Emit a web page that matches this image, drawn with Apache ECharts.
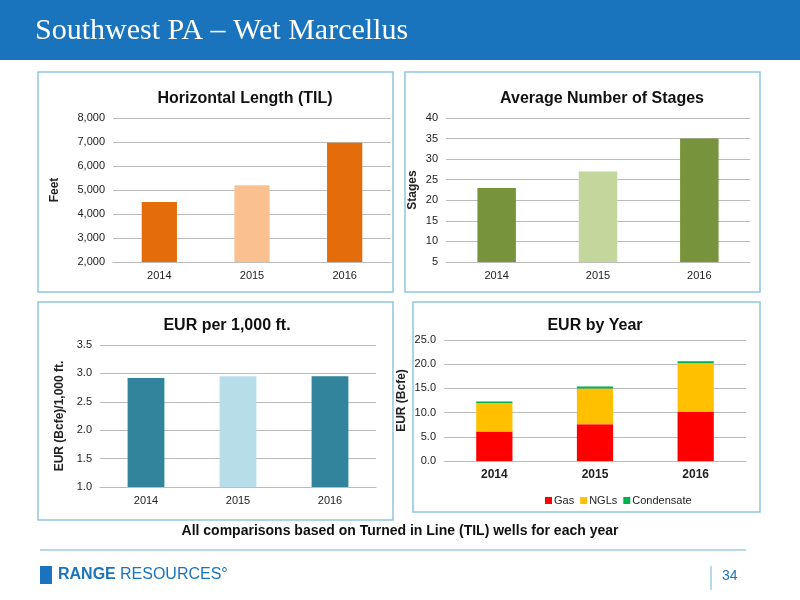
<!DOCTYPE html><html><head><meta charset="utf-8"><script src="https://cdn.jsdelivr.net/npm/echarts@6/dist/echarts.min.js"></script>
<style>body{margin:0}#c{width:800px;height:600px}</style></head><body><div id="c"></div><script>
const years=['2014','2015','2016'];
const lengthFt=[4500,5200,6970];
const stages=[23,27,35];
const eurPer1000=[2.92,2.95,2.95];
const gas=[6.1,7.6,10.1];
const ngls=[5.9,7.4,10.1];
const condensate=[0.3,0.4,0.4];
const c=echarts.init(document.getElementById('c'));
const F='Liberation Sans, Arial, sans-serif';
const ax=(gi,extra)=>Object.assign({type:'category',gridIndex:gi,data:years,axisTick:{show:false},axisLine:{lineStyle:{color:'#bbb'}},axisLabel:{color:'#222',fontSize:11,fontFamily:F}},extra||{});
const ay=(gi,min,max,iv,name,fmt,gap)=>({type:'value',gridIndex:gi,min,max,interval:iv,name,nameLocation:'middle',nameGap:gap,nameTextStyle:{fontWeight:'bold',fontSize:12,color:'#222',fontFamily:F},axisLabel:{color:'#222',fontSize:11,fontFamily:F,formatter:fmt},splitLine:{lineStyle:{color:'#bbb'}},axisLine:{show:false},axisTick:{show:false}});
const col=(arr)=>arr.map(x=>({value:x.v,itemStyle:{color:x.c}}));
const box=(x,y,w,h)=>({type:'rect',shape:{x,y,width:w,height:h},style:{fill:'none',stroke:'#8fc6e0',lineWidth:1.5}});
c.setOption({
animation:false,
graphic:[
{type:'rect',shape:{x:0,y:0,width:800,height:60},style:{fill:'#1a74bd'}},
{type:'text',left:35,top:16,style:{text:'Southwest PA – Wet Marcellus',fill:'#fff',font:'30px "Liberation Serif", serif'}},
box(38,72,355,220),box(405,72,355,220),box(38,302,355,218),box(413,302,347,210),
{type:'text',left:'center',top:524,style:{text:'All comparisons based on Turned in Line (TIL) wells for each year',fill:'#111',font:'bold 14px Liberation Sans, Arial'}},
{type:'line',shape:{x1:40,y1:550,x2:746,y2:550},style:{stroke:'#6ab4dc',lineWidth:1}},
{type:'rect',shape:{x:40,y:566,width:12,height:18},style:{fill:'#1a74bd'}},
{type:'text',left:58,top:567,style:{text:'RANGE',fill:'#1a74bd',font:'bold 16px Liberation Sans Narrow, Arial'}},
{type:'text',left:120,top:567,style:{text:'RESOURCES°',fill:'#1a74bd',font:'16px Liberation Sans Narrow, Arial'}},
{type:'line',shape:{x1:711,y1:566,x2:711,y2:590},style:{stroke:'#6ab4dc',lineWidth:1}},
{type:'text',left:722,top:569,style:{text:'34',fill:'#1a74bd',font:'14px Liberation Sans Narrow, Arial'}}
],
title:[
{text:'Horizontal Length (TIL)',left:240,top:86,textAlign:'center',textStyle:{fontSize:16,fontWeight:'bold',color:'#111',fontFamily:F}},
{text:'Average Number of Stages',left:597,top:86,textAlign:'center',textStyle:{fontSize:16,fontWeight:'bold',color:'#111',fontFamily:F}},
{text:'EUR per 1,000 ft.',left:222,top:313,textAlign:'center',textStyle:{fontSize:16,fontWeight:'bold',color:'#111',fontFamily:F}},
{text:'EUR by Year',left:590,top:313,textAlign:'center',textStyle:{fontSize:16,fontWeight:'bold',color:'#111',fontFamily:F}}
],
legend:{data:['Gas','NGLs','Condensate'],left:540,top:490,itemWidth:7,itemHeight:7,itemGap:6,icon:'rect',textStyle:{fontSize:11,color:'#222',fontFamily:F,padding:[0,0,0,-3]}},
grid:[
{left:113,top:118,width:278,height:144},
{left:446,top:118,width:304,height:144},
{left:100,top:345,width:276,height:142},
{left:444,top:340,width:302,height:121}
],
xAxis:[ax(0),ax(1),ax(2),ax(3,{axisLabel:{color:'#222',fontSize:12,fontWeight:'bold',fontFamily:F}})],
yAxis:[
ay(0,2000,8000,1000,'Feet',v=>v.toLocaleString('en-US'),52),
ay(1,5,40,5,'Stages',null,27),
ay(2,1.0,3.5,0.5,'EUR (Bcfe)/1,000 ft.',v=>v.toFixed(1),34),
ay(3,0,25,5,'EUR (Bcfe)',v=>v.toFixed(1),36)
],
series:[
{type:'bar',xAxisIndex:0,yAxisIndex:0,barWidth:'38%',data:col([{v:lengthFt[0],c:'#e46c0a'},{v:lengthFt[1],c:'#fac090'},{v:lengthFt[2],c:'#e46c0a'}])},
{type:'bar',xAxisIndex:1,yAxisIndex:1,barWidth:'38%',data:col([{v:stages[0],c:'#77933c'},{v:stages[1],c:'#c3d69b'},{v:stages[2],c:'#77933c'}])},
{type:'bar',xAxisIndex:2,yAxisIndex:2,barWidth:'40%',data:col([{v:eurPer1000[0],c:'#31849b'},{v:eurPer1000[1],c:'#b7dee8'},{v:eurPer1000[2],c:'#31849b'}])},
{name:'Gas',type:'bar',stack:'e',xAxisIndex:3,yAxisIndex:3,barWidth:'36%',itemStyle:{color:'#ff0000'},data:gas},
{name:'NGLs',type:'bar',stack:'e',xAxisIndex:3,yAxisIndex:3,itemStyle:{color:'#ffc000'},data:ngls},
{name:'Condensate',type:'bar',stack:'e',xAxisIndex:3,yAxisIndex:3,itemStyle:{color:'#00b050'},data:condensate}
]});
</script></body></html>
